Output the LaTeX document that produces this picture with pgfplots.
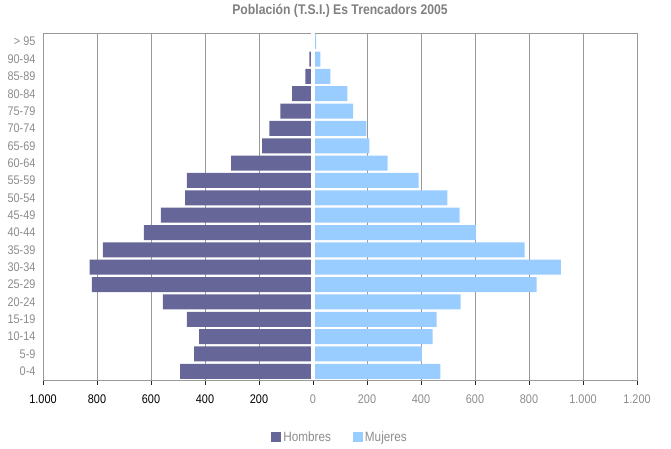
\documentclass[border=0pt]{standalone}
\usepackage{fontspec}
\setmainfont[FakeStretch=0.87]{Liberation Sans}
\usepackage{pgfplots}
\usepackage{pgfplotstable}
\pgfplotsset{compat=1.18}
\definecolor{hom}{HTML}{666699}
\definecolor{muj}{HTML}{99CCFF}
\definecolor{txtgray}{HTML}{8C8C8C}
\definecolor{titgray}{HTML}{808080}
\definecolor{gridgray}{HTML}{999999}
\pgfplotstableread{
idx hom muj
0 -492 472
1 -440 403
2 -422 443
3 -467 458
4 -556 547
5 -819 828
6 -827 918
7 -778 784
8 -626 603
9 -563 543
10 -474 498
11 -467 391
12 -303 276
13 -188 209
14 -162 198
15 -121 149
16 -77 127
17 -28 64
18 -13 27
19 0 12
}\datatable
\begin{document}
\begin{tikzpicture}
\useasboundingbox (-43pt,-69pt) rectangle (628pt,380pt);
\begin{axis}[
  at={(0,0)}, anchor=south west, scale only axis,
  width=594pt, height=347pt,
  xbar, bar width=15pt, bar shift=0pt,
  xmin=-1000, xmax=1200, ymin=-0.5, ymax=19.5,
  xtick={-1000,-800,...,1200},
  xticklabels={{\color{black}1.000},{\color{black}800},{\color{black}600},{\color{black}400},{\color{black}200},0,200,400,600,800,1.000,1.200},
  ytick={0,...,19},
  yticklabels={0-4,5-9,10-14,15-19,20-24,25-29,30-34,35-39,40-44,45-49,50-54,55-59,60-64,65-69,70-74,75-79,80-84,85-89,90-94,> 95},
  xmajorgrids, major grid style={gridgray, line width=0.9pt},
  axis line style={gridgray, line width=0.9pt},
  xtick pos=left, xtick align=outside, major tick length=5pt,
  x tick style={black!85, line width=0.8pt},
  y tick style={draw=none},
  tick label style={font=\fontsize{12.5}{13}\selectfont, text=txtgray},
  xticklabel style={yshift=-6pt},
  yticklabel style={xshift=1pt},
  title={Población (T.S.I.) Es Trencadors 2005},
  title style={font=\bfseries\fontsize{14}{15}\selectfont, text=titgray, at={(0.5,1)}, anchor=center, yshift=16pt},
  legend style={at={(0.5,0)}, anchor=center, yshift=-57pt, draw=none, fill=none,
    font=\fontsize{13.5}{14}\selectfont, text=txtgray, legend columns=2,
    /tikz/every even column/.append style={column sep=20pt}},
  legend image code/.code={\fill[#1] (0pt,-5pt) rectangle (10pt,5pt);},
]
\addplot[fill=hom, draw=none] table[x=hom, y=idx] {\datatable};
\addplot[fill=muj, draw=none] table[x=muj, y=idx] {\datatable};
\legend{Hombres, Mujeres}
\draw[white, line width=3.5pt] (axis cs:0,-0.5) -- (axis cs:0,19.5);
\draw[black!85, line width=0.9pt] (rel axis cs:0,0) -- (rel axis cs:1,0);
\end{axis}
\end{tikzpicture}
\end{document}
